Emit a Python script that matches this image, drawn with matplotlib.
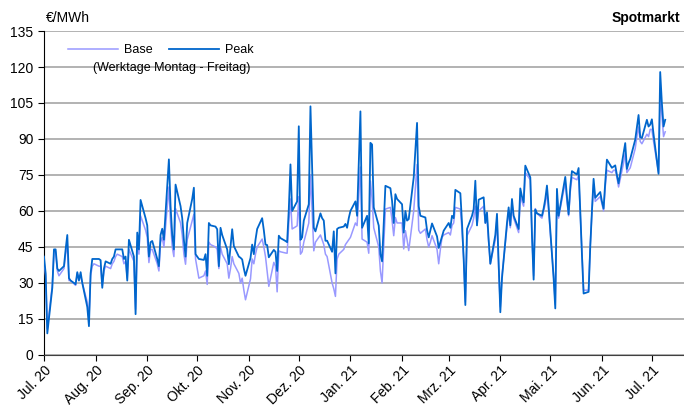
import numpy as np
import pandas as pd
import matplotlib
matplotlib.use("Agg")
import matplotlib.pyplot as plt

plt.rcParams["font.family"] = ["Liberation Sans", "DejaVu Sans"]

# Spotmarkt daily prices (EUR/MWh), working days Mon-Fri, one list per month
peak_jul20 = [41, 34, 9, 28, 44, 44, 36, 35, 37, 44, 50, 32, 31, 29.5, 34.5, 31, 34.5, 30, 20, 12, 34, 40, 40]
base_jul20 = [39, 33, 11, 29, 43, 43, 35, 33, 36, 42, 46, 31, 31, 29, 34, 32, 33, 30, 22, 15, 33, 37, 38]
peak_aug20 = [40, 39.5, 28, 36, 39, 38, 40, 41, 44, 44, 44, 40, 41, 31, 48, 41, 17, 51, 44, 64.6, 57]
base_aug20 = [37, 37, 29, 35, 37, 36, 38, 39, 41, 42, 41, 38, 39, 32, 44, 39, 19, 47, 42, 58, 52]
peak_sep20 = [54, 41, 47, 47.5, 40, 37, 50, 52.6, 48, 81.5, 62, 50, 44, 71, 62, 57, 48, 41, 55, 65, 69.7, 42]
base_sep20 = [49, 38.5, 44, 44, 38, 35, 47, 49, 45, 70, 55, 45, 41, 61, 55, 50, 42, 37.8, 48, 56, 58.6, 40]
peak_okt20 = [41, 40, 39.6, 42, 33, 55, 54, 53.5, 52.4, 37, 53, 50, 44, 37.8, 45, 52.4, 45.4, 41, 40.5, 39.8, 36, 33]
base_okt20 = [36, 32, 33, 35, 29.4, 47, 46, 45, 44, 36, 45, 42, 38, 32, 36, 41, 38, 34, 30, 32, 27, 23]
peak_nov20 = [40.4, 46, 42, 48, 52.5, 57, 52, 46, 45.8, 40.7, 43.8, 43, 35, 49.7, 48.7, 47.5, 47, 60.8, 79.4, 60, 64]
base_nov20 = [31.7, 40, 38, 42, 45, 48.3, 45, 41, 35, 28.6, 38.6, 37, 26.3, 43.4, 43, 42.5, 42.4, 55, 65, 52.5, 53.8]
peak_dez20 = [95.3, 48, 49, 56, 62.8, 103.6, 78, 53, 51.5, 59, 57, 56, 47.6, 47.6, 43, 51.5, 34, 52.5, 53, 53.5, 54.6, 53, 57]
base_dez20 = [66, 42, 43, 47, 55, 75, 60, 43.4, 47, 50, 48, 46, 42, 41, 30, 27.6, 24.4, 40, 42, 44, 46, 47, 48]
peak_jan21 = [60, 64, 58, 80, 101.5, 53, 58, 46.5, 88.4, 87.7, 61.5, 53.9, 42, 39, 55, 70.5, 69.5, 64.2, 55, 67, 65]
base_jan21 = [49, 55, 53.9, 66, 78.3, 48.3, 47, 42.4, 72.5, 65, 53, 45, 35, 30, 45, 60.8, 61.5, 56, 49.7, 57.3, 55]
peak_feb21 = [62.8, 51, 60, 56, 56.6, 74, 85, 96.7, 62, 58, 57.3, 52, 49, 52, 54.8, 49.4, 44.6, 47, 49.3, 51.8]
base_feb21 = [55, 44.2, 51.8, 48, 43.5, 60, 70, 79.4, 52, 50.7, 52.5, 48, 45, 47, 49.7, 44, 38, 44, 49, 50]
peak_mrz21 = [55, 53, 58, 57, 68.8, 67.4, 55, 40, 20.8, 52.5, 58, 60.8, 72.6, 54, 64.7, 65.7, 55, 59.4, 48, 38, 50, 58.8, 38]
base_mrz21 = [51, 50, 54, 55, 61.5, 60.8, 52, 40, 22, 49.7, 54, 57, 62, 54, 60, 62, 55, 57, 47, 38, 48, 57, 36]
peak_apr21 = [17.8, 32, 55, 61.5, 54, 65, 58, 52.5, 69.4, 66, 63.6, 78.9, 74, 50, 31.4, 60.6, 59, 58, 61, 65, 70.6, 62]
base_apr21 = [20, 33, 53, 60, 53, 63, 57, 51, 66, 64, 62, 76, 73, 50, 33, 61, 59, 57, 60, 63, 68, 60]
peak_mai21 = [32, 19.4, 69.2, 58, 62, 74.2, 66, 58.6, 70, 76.6, 75.2, 77.9, 60, 42, 25.6, 26.3, 45, 60, 73.4, 65.5, 67.9]
base_mai21 = [33, 21, 67, 57, 61, 72, 64, 58, 68, 74, 73, 75, 59, 42, 27, 27, 46, 59, 71, 64, 66]
peak_jun21 = [64, 61, 72, 81.4, 78, 78.5, 79, 75, 71.5, 84, 88.3, 77.5, 80, 81.7, 89.7, 95, 100, 90.8, 90.4, 98, 95.2, 96]
base_jun21 = [63, 60, 70, 77, 76, 77, 77, 74, 70, 80, 84, 76, 77, 78, 86, 91, 95, 89, 88, 92, 91, 94]
peak_jul21 = [98.2, 92, 75.5, 117.9, 105, 95.2, 98]
base_jul21 = [94, 89, 76, 108, 100, 91, 93]

month_starts = ["2020-07", "2020-08", "2020-09", "2020-10", "2020-11", "2020-12",
                "2021-01", "2021-02", "2021-03", "2021-04", "2021-05", "2021-06", "2021-07"]
month_labels = ["Jul. 20", "Aug. 20", "Sep. 20", "Okt. 20", "Nov. 20", "Dez. 20",
                "Jan. 21", "Feb. 21", "Mrz. 21", "Apr. 21", "Mai. 21", "Jun. 21", "Jul. 21"]

peak_months = [peak_jul20, peak_aug20, peak_sep20, peak_okt20, peak_nov20, peak_dez20,
               peak_jan21, peak_feb21, peak_mrz21, peak_apr21, peak_mai21, peak_jun21, peak_jul21]
base_months = [base_jul20, base_aug20, base_sep20, base_okt20, base_nov20, base_dez20,
               base_jan21, base_feb21, base_mrz21, base_apr21, base_mai21, base_jun21, base_jul21]

# working days of each month
dates, peak, base = [], [], []
for m, p, b in zip(month_starts, peak_months, base_months):
    start = pd.Timestamp(m + "-01")
    days = pd.bdate_range(start, start + pd.offsets.MonthEnd(0))[:len(p)]
    dates.extend(days)
    peak.extend(p)
    base.extend(b)
dates = pd.DatetimeIndex(dates)

fig = plt.figure(figsize=(6.84, 4.08), dpi=100)
ax = fig.add_axes([0.0643, 0.13, 0.935, 0.794])

ax.plot(dates, base, color="#9999FF", lw=1.1, label="Base", zorder=3)
ax.plot(dates, peak, color="#0066CC", lw=1.3, label="Peak", zorder=4)

ax.set_ylim(0, 135)
ax.set_yticks(np.arange(0, 136, 15))
ax.set_xlim(pd.Timestamp("2020-07-01"), pd.Timestamp("2021-07-20"))
ticks = [pd.Timestamp(m + "-01") for m in month_starts]
ax.set_xticks(ticks)
ax.set_xticklabels(month_labels, rotation=45, ha="right", rotation_mode="anchor")

ax.grid(axis="y", color="#A6A6A6", lw=1.2)
ax.set_axisbelow(True)
for s in ["top", "right"]:
    ax.spines[s].set_visible(False)
ax.spines["left"].set_color("black")
ax.spines["bottom"].set_color("#404040")
ax.tick_params(axis="both", labelsize=10, length=4, color="black")
ax.tick_params(axis="x", pad=2)

leg = ax.legend(loc="upper left", bbox_to_anchor=(0.02, 0.995), ncol=2, frameon=False,
                fontsize=9, handlelength=4.0, columnspacing=1.3, handletextpad=0.5)
ax.text(0.2, 0.885, "(Werktage Montag - Freitag)", transform=ax.transAxes,
        ha="center", va="center", fontsize=9)

fig.text(0.067, 0.955, "€/MWh", fontsize=10, ha="left", va="center")
fig.text(0.995, 0.955, "Spotmarkt", fontsize=10, fontweight="bold", ha="right", va="center")

fig.savefig("out.png", dpi=100)
